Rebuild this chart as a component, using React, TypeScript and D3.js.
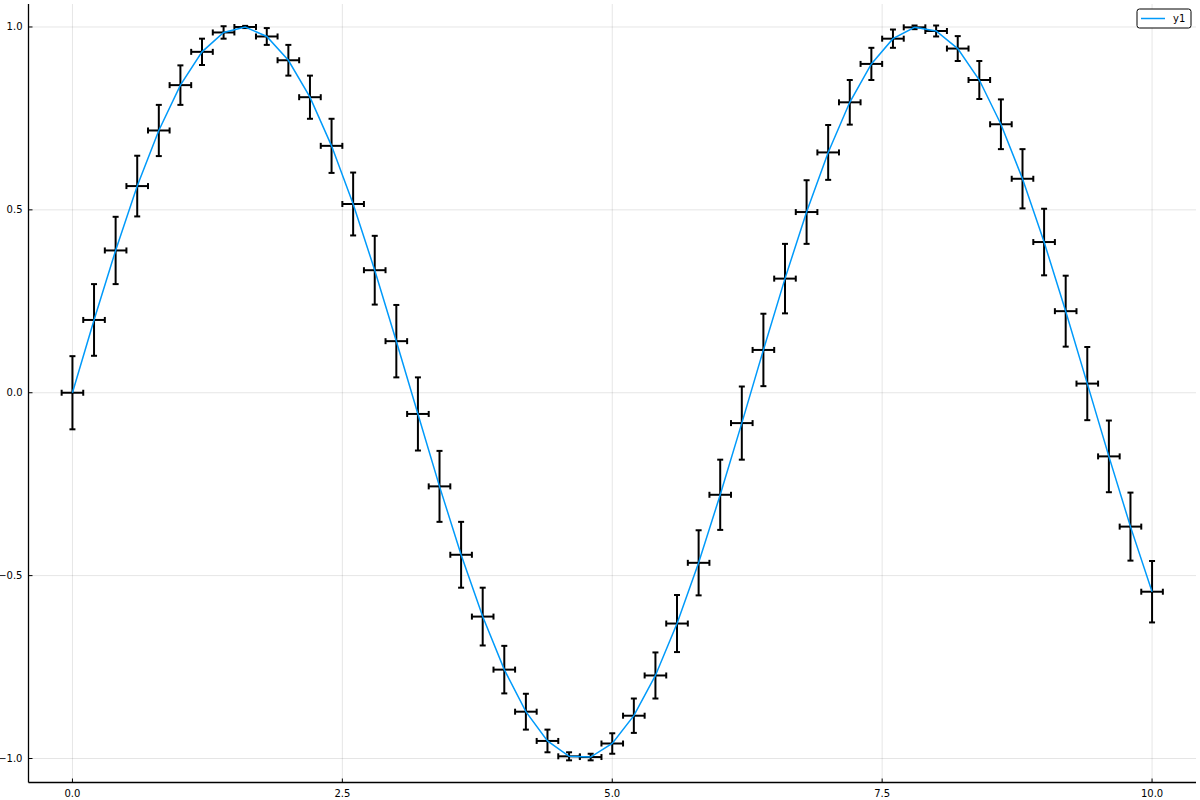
import React, { useEffect, useRef } from 'react';
import * as d3 from 'd3';

const xs = [
  0.0, 0.2, 0.4, 0.6, 0.8, 1.0, 1.2, 1.4, 1.6, 1.8, 2.0, 2.2, 2.4, 2.6, 2.8, 3.0, 3.2,
  3.4, 3.6, 3.8, 4.0, 4.2, 4.4, 4.6, 4.8, 5.0, 5.2, 5.4, 5.6, 5.8, 6.0, 6.2, 6.4, 6.6,
  6.8, 7.0, 7.2, 7.4, 7.6, 7.8, 8.0, 8.2, 8.4, 8.6, 8.8, 9.0, 9.2, 9.4, 9.6, 9.8, 10.0,
];
const ys = [
  0.0, 0.199, 0.389, 0.565, 0.717, 0.841, 0.932, 0.985, 1.0, 0.974, 0.909, 0.808, 0.675,
  0.516, 0.335, 0.141, -0.058, -0.256, -0.443, -0.612, -0.757, -0.872, -0.952, -0.994,
  -0.996, -0.959, -0.883, -0.773, -0.631, -0.465, -0.279, -0.083, 0.117, 0.312, 0.494,
  0.657, 0.794, 0.899, 0.968, 0.999, 0.989, 0.941, 0.855, 0.734, 0.585, 0.412, 0.223,
  0.025, -0.174, -0.366, -0.544,
];
const yErr = [
  0.1, 0.098, 0.092, 0.083, 0.07, 0.054, 0.036, 0.017, 0.003, 0.023, 0.042, 0.059, 0.074,
  0.086, 0.094, 0.099, 0.1, 0.097, 0.09, 0.079, 0.065, 0.049, 0.031, 0.011, 0.009, 0.028,
  0.047, 0.063, 0.078, 0.089, 0.096, 0.1, 0.099, 0.095, 0.087, 0.075, 0.061, 0.044, 0.025,
  0.005, 0.015, 0.034, 0.052, 0.068, 0.081, 0.091, 0.097, 0.1, 0.098, 0.093, 0.084,
];
const xErr = 0.1;
const xTicks = [0, 2.5, 5, 7.5, 10];
const yTicks = [-1, -0.5, 0, 0.5, 1];
const seriesName = 'y1';

const W = 1200;
const H = 800;

export default function App() {
  const svgRef = useRef<SVGSVGElement>(null);

  useEffect(() => {
    if (!svgRef.current) return;
    const svg = d3.select(svgRef.current);
    svg.selectAll('*').remove();

    const left = 28.5, right = 1196, top = 4, bottom = 782.5;
    const x = d3.scaleLinear().domain([-0.407, 10.407]).range([left, right]);
    const y = d3.scaleLinear().domain([-1.0656, 1.0628]).range([bottom, top]);

    const font = 'DejaVu Sans, sans-serif';

    // grid
    const grid = svg.append('g').attr('stroke', '#000').attr('stroke-opacity', 0.1).attr('stroke-width', 1);
    xTicks.forEach(t => {
      grid.append('line').attr('x1', x(t)).attr('x2', x(t)).attr('y1', top).attr('y2', bottom);
    });
    yTicks.forEach(t => {
      grid.append('line').attr('x1', left).attr('x2', right).attr('y1', y(t)).attr('y2', y(t));
    });

    // axes
    const ax = svg.append('g').attr('stroke', '#000').attr('stroke-width', 1.3);
    ax.append('line').attr('x1', left).attr('x2', left).attr('y1', top).attr('y2', bottom);
    ax.append('line').attr('x1', left).attr('x2', right).attr('y1', bottom).attr('y2', bottom);
    xTicks.forEach(t => {
      ax.append('line').attr('x1', x(t)).attr('x2', x(t)).attr('y1', bottom).attr('y2', bottom - 4).attr('stroke-width', 1);
      svg.append('text').attr('x', x(t)).attr('y', bottom + 14).attr('text-anchor', 'middle')
        .attr('font-family', font).attr('font-size', 10).text(d3.format('.1f')(t));
    });
    yTicks.forEach(t => {
      ax.append('line').attr('x1', left).attr('x2', left + 4).attr('y1', y(t)).attr('y2', y(t)).attr('stroke-width', 1);
      svg.append('text').attr('x', left - 6).attr('y', y(t)).attr('dy', '0.35em').attr('text-anchor', 'end')
        .attr('font-family', font).attr('font-size', 10).text(d3.format('.1f')(t));
    });

    // error bars
    const eb = svg.append('g').attr('stroke', '#000').attr('stroke-width', 2).attr('fill', 'none');
    const cap = 3;
    xs.forEach((xv, i) => {
      const yv = ys[i];
      const y0 = y(yv - yErr[i]), y1 = y(yv + yErr[i]);
      const px = x(xv), py = y(yv);
      eb.append('line').attr('x1', px).attr('x2', px).attr('y1', y0).attr('y2', y1);
      eb.append('line').attr('x1', px - cap).attr('x2', px + cap).attr('y1', y0).attr('y2', y0);
      eb.append('line').attr('x1', px - cap).attr('x2', px + cap).attr('y1', y1).attr('y2', y1);
      const x0 = x(xv - xErr), x1 = x(xv + xErr);
      eb.append('line').attr('x1', x0).attr('x2', x1).attr('y1', py).attr('y2', py);
      eb.append('line').attr('x1', x0).attr('x2', x0).attr('y1', py - cap).attr('y2', py + cap);
      eb.append('line').attr('x1', x1).attr('x2', x1).attr('y1', py - cap).attr('y2', py + cap);
    });

    // line
    const line = d3.line<number>().x((_, i) => x(xs[i])).y(d => y(d));
    svg.append('path').datum(ys).attr('d', line).attr('fill', 'none')
      .attr('stroke', '#009AFA').attr('stroke-width', 1.5);

    // legend
    const lg = svg.append('g');
    lg.append('rect').attr('x', 1137).attr('y', 9).attr('width', 54).attr('height', 19).attr('rx', 2.5)
      .attr('fill', '#fff').attr('stroke', '#000').attr('stroke-width', 1);
    lg.append('line').attr('x1', 1141).attr('x2', 1165).attr('y1', 18.5).attr('y2', 18.5)
      .attr('stroke', '#009AFA').attr('stroke-width', 1.5);
    lg.append('text').attr('x', 1173).attr('y', 18.5).attr('dy', '0.35em')
      .attr('font-family', font).attr('font-size', 10).text(seriesName);
  }, []);

  return (
    <svg ref={svgRef} width={W} height={H} viewBox={`0 0 ${W} ${H}`}
      style={{ display: 'block', position: 'absolute', left: 0, top: 0, background: '#fff' }} />
  );
}
